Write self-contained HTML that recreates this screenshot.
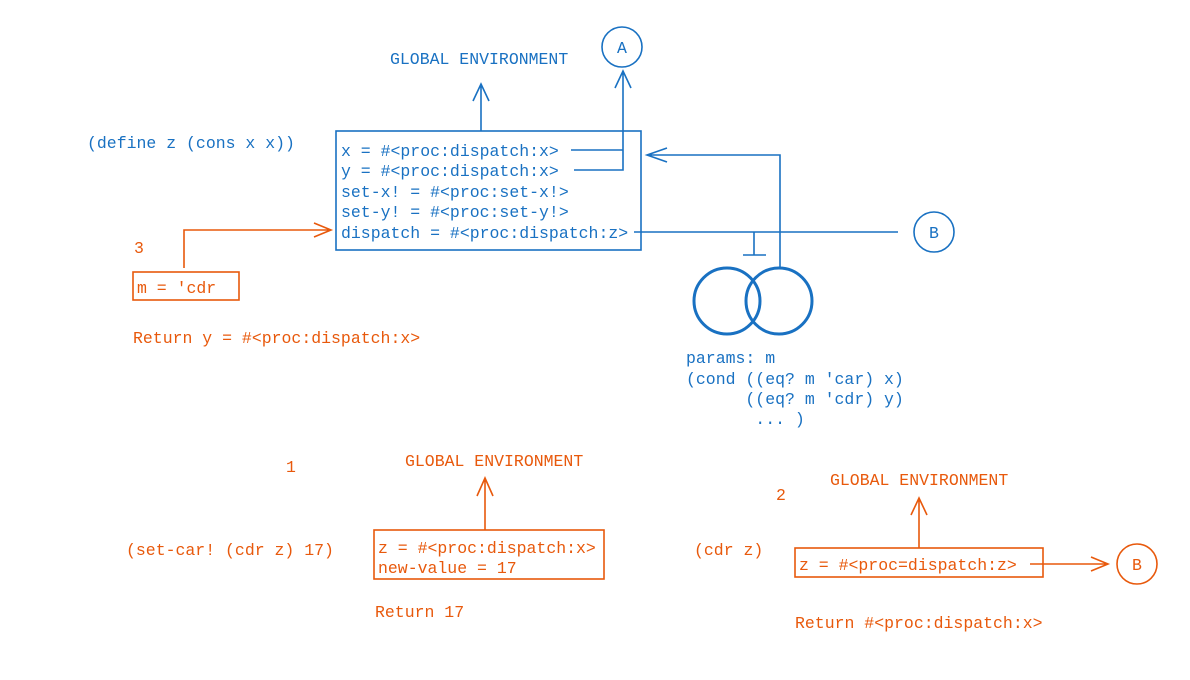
<!DOCTYPE html>
<html><head><meta charset="utf-8"><style>
html,body{margin:0;padding:0;background:#fff;}
svg{display:block;}
text{font-family:"Liberation Mono",monospace;font-size:16.5px;}
.b{fill:#1971c2;} .o{fill:#e8590c;}
</style></head><body>
<svg width="1190" height="680" viewBox="0 0 1190 680" xmlns="http://www.w3.org/2000/svg">
<g fill="none" stroke="#1971c2" stroke-width="1.6">
<rect x="336" y="131" width="305" height="119"/>
<path d="M481 131 V84 M473 101 L481 84 L489 101"/>
<circle cx="622" cy="47" r="20"/>
<path d="M571 150 H623 M574 170 H623 V71 M615 88 L623 71 L631 88"/>
<path d="M780 268 V155 H647 M667 148 L647 155 L667 162"/>
<path d="M634 232 H898"/>
<circle cx="934" cy="232" r="20"/>
<path d="M754 232 V255 M743 255 H766"/>
</g>
<g fill="none" stroke="#1971c2" stroke-width="3">
<circle cx="727" cy="301" r="33"/>
<circle cx="779" cy="301" r="33"/>
</g>
<g class="b">
<text x="390" y="64">GLOBAL ENVIRONMENT</text>
<text x="617" y="53">A</text>
<text x="929" y="238">B</text>
<text x="87" y="148">(define z (cons x x))</text>
<text x="341" y="156">x = #&lt;proc:dispatch:x&gt;</text>
<text x="341" y="176">y = #&lt;proc:dispatch:x&gt;</text>
<text x="341" y="197">set-x! = #&lt;proc:set-x!&gt;</text>
<text x="341" y="217">set-y! = #&lt;proc:set-y!&gt;</text>
<text x="341" y="238">dispatch = #&lt;proc:dispatch:z&gt;</text>
<text x="686" y="363">params: m</text>
<text x="686" y="384">(cond ((eq? m 'car) x)</text>
<text x="686" y="404" xml:space="preserve">      ((eq? m 'cdr) y)</text>
<text x="686" y="424" xml:space="preserve">       ... )</text>
</g>
<g fill="none" stroke="#e8590c" stroke-width="1.6">
<rect x="133" y="272" width="106" height="28"/>
<path d="M184 268 V230 H331 M314 223 L331 230 L314 237"/>
<rect x="374" y="530" width="230" height="49"/>
<path d="M485 530 V478 M477 496 L485 478 L493 496"/>
<rect x="795" y="548" width="248" height="29"/>
<path d="M919 548 V498 M911 515 L919 498 L927 515"/>
<path d="M1030 564 H1108 M1091 557 L1108 564 L1091 571"/>
<circle cx="1137" cy="564" r="20"/>
</g>
<g class="o">
<text x="134" y="253">3</text>
<text x="137" y="293">m = 'cdr</text>
<text x="133" y="343">Return y = #&lt;proc:dispatch:x&gt;</text>
<text x="286" y="472">1</text>
<text x="405" y="466">GLOBAL ENVIRONMENT</text>
<text x="126" y="555">(set-car! (cdr z) 17)</text>
<text x="378" y="553">z = #&lt;proc:dispatch:x&gt;</text>
<text x="378" y="573">new-value = 17</text>
<text x="375" y="617">Return 17</text>
<text x="776" y="500">2</text>
<text x="830" y="485">GLOBAL ENVIRONMENT</text>
<text x="694" y="555">(cdr z)</text>
<text x="799" y="570">z = #&lt;proc=dispatch:z&gt;</text>
<text x="1132" y="570">B</text>
<text x="795" y="628">Return #&lt;proc:dispatch:x&gt;</text>
</g>
</svg>
</body></html>
